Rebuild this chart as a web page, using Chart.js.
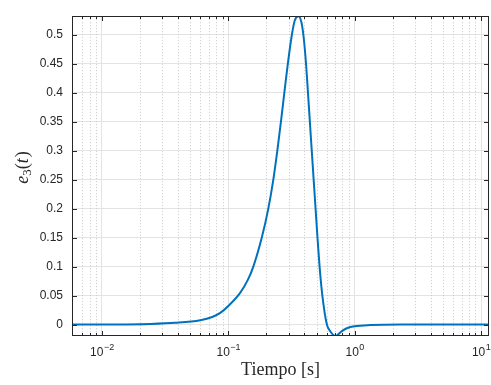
<!DOCTYPE html>
<html>
<head>
<meta charset="utf-8">
<script src="https://cdn.jsdelivr.net/npm/chart.js@4/dist/chart.umd.min.js"></script>
<style>
  html, body { margin: 0; padding: 0; background: #fff; }
  #wrap { width: 491px; height: 385px; }
</style>
</head>
<body>
<div id="wrap"><canvas id="chart"></canvas></div>
<script>
// time samples [s] and e3(t) values
const tiempo = [0.0058, 0.01, 0.015, 0.024, 0.038, 0.06, 0.0746, 0.0864, 0.1, 0.1245, 0.1427,
  0.1578, 0.1841, 0.2073, 0.2271, 0.2443, 0.2609, 0.2776, 0.2959, 0.3184, 0.3361, 0.3602,
  0.3784, 0.3925, 0.4122, 0.4269, 0.4418, 0.4574, 0.4735, 0.4903, 0.5076, 0.5274, 0.5549,
  0.6025, 0.642, 0.7033, 0.7848, 0.875, 1.0, 1.33, 2.3, 5, 11.55];
const e3 = [0, 0, 0.0002, 0.001, 0.003, 0.0075, 0.013, 0.02, 0.032, 0.055, 0.077,
  0.1, 0.15, 0.2, 0.25, 0.3, 0.35, 0.4, 0.45, 0.5, 0.525, 0.532,
  0.522, 0.5, 0.45, 0.4, 0.35, 0.3, 0.25, 0.2, 0.15, 0.1, 0.05,
  0, -0.012, -0.0198, -0.012, -0.006, -0.003, -0.001, 0, 0, 0];
const yTicks = [0, 0.05, 0.1, 0.15, 0.2, 0.25, 0.3, 0.35, 0.4, 0.45, 0.5];
const xMin = 0.0058, xMax = 11.55;
const yMin = -0.0198, yMax = 0.532;

const axisColor = "#262626";
const labelFont = "12px 'Liberation Sans', Arial, sans-serif";

function isWholeSignificand(v) {
  const exp = Math.floor(Math.log10(v) + 1e-9);
  const s = v / Math.pow(10, exp);
  return Math.abs(s - Math.round(s)) < 1e-6;
}

// dotted minor grid for the log axis
const minorGrid = {
  id: "minorGrid",
  beforeDatasetsDraw(chart) {
    const { ctx, chartArea: a } = chart;
    const xs = chart.scales.x;
    ctx.save();
    ctx.strokeStyle = "#c8c8c8";
    ctx.lineWidth = 1;
    ctx.setLineDash([1, 2]);
    xs.ticks.forEach((t) => {
      if (t.major || !isWholeSignificand(t.value)) return;
      const px = Math.round(xs.getPixelForValue(t.value)) + 0.5;
      ctx.beginPath();
      ctx.moveTo(px, a.top);
      ctx.lineTo(px, a.bottom);
      ctx.stroke();
    });
    ctx.restore();
  },
};

// box, inward ticks, x labels with exponents, axis titles
const matlabAxes = {
  id: "matlabAxes",
  afterDatasetsDraw(chart) {
    const { ctx, chartArea: a } = chart;
    const xs = chart.scales.x, ys = chart.scales.y;
    const L = Math.round(a.left) + 0.5, R = Math.round(a.right) - 0.5;
    const T = Math.round(a.top) + 0.5, B = Math.round(a.bottom) - 0.5;
    ctx.save();
    ctx.strokeStyle = axisColor;
    ctx.lineWidth = 1;
    ctx.strokeRect(L, T, R - L, B - T);

    ctx.beginPath();
    xs.ticks.forEach((t) => {
      if (!t.major && !isWholeSignificand(t.value)) return;
      const px = Math.round(xs.getPixelForValue(t.value)) + 0.5;
      if (px < L || px > R) return;
      const len = t.major ? 4.5 : 2.5;
      ctx.moveTo(px, B); ctx.lineTo(px, B - len);
      ctx.moveTo(px, T); ctx.lineTo(px, T + len);
    });
    yTicks.forEach((v) => {
      const py = Math.round(ys.getPixelForValue(v)) + 0.5;
      ctx.moveTo(L, py); ctx.lineTo(L + 4.5, py);
      ctx.moveTo(R, py); ctx.lineTo(R - 4.5, py);
    });
    ctx.stroke();

    // x tick labels 10^n
    ctx.fillStyle = axisColor;
    ctx.textBaseline = "alphabetic";
    xs.ticks.forEach((t) => {
      if (!t.major) return;
      const px = xs.getPixelForValue(t.value);
      const exp = String(Math.round(Math.log10(t.value))).replace("-", "\u2212");
      ctx.font = labelFont;
      const wb = ctx.measureText("10").width;
      ctx.font = "9px 'Liberation Sans', Arial, sans-serif";
      const we = ctx.measureText(exp).width;
      const x0 = px - (wb + we) / 2;
      ctx.font = labelFont;
      ctx.textAlign = "left";
      ctx.fillText("10", x0, 356);
      ctx.font = "9px 'Liberation Sans', Arial, sans-serif";
      ctx.fillText(exp, x0 + wb + 0.5, 350);
    });

    // x title
    ctx.font = "18px 'Liberation Serif', 'Times New Roman', serif";
    ctx.textAlign = "center";
    ctx.fillText("Tiempo [s]", (a.left + a.right) / 2, 375);

    // y title e_3(t), rotated
    ctx.translate(28, 168);
    ctx.rotate(-Math.PI / 2);
    const parts = [
      { s: "e", f: "italic 18px 'Liberation Serif', serif", dy: 0 },
      { s: "3", f: "13px 'Liberation Serif', serif", dy: 3 },
      { s: "(", f: "18px 'Liberation Serif', serif", dy: 0 },
      { s: "t", f: "italic 18px 'Liberation Serif', serif", dy: 0 },
      { s: ")", f: "18px 'Liberation Serif', serif", dy: 0 },
    ];
    let total = 0;
    parts.forEach((p) => { ctx.font = p.f; p.w = ctx.measureText(p.s).width; total += p.w; });
    let cx = -total / 2;
    ctx.textAlign = "left";
    parts.forEach((p) => {
      ctx.font = p.f;
      ctx.fillText(p.s, cx, p.dy);
      cx += p.w + (p.s === "t" ? 1 : 0);
    });
    ctx.restore();
  },
};

const points = tiempo.map((t, i) => ({ x: t, y: e3[i] }));

new Chart(document.getElementById("chart"), {
  type: "line",
  data: {
    datasets: [
      {
        data: points,
        borderColor: "#0072BD",
        borderWidth: 2,
        pointRadius: 0,
        cubicInterpolationMode: "monotone",
        fill: false,
      },
    ],
  },
  options: {
    responsive: true,
    maintainAspectRatio: false,
    animation: false,
    layout: { padding: { left: 0, top: 10, right: 2, bottom: 0 } },
    plugins: { legend: { display: false }, tooltip: { enabled: false } },
    scales: {
      x: {
        type: "logarithmic",
        min: xMin,
        max: xMax,
        border: { display: false },
        grid: {
          drawTicks: false,
          color: (c) => (c.tick && c.tick.major ? "#e3e3e3" : "rgba(0,0,0,0)"),
        },
        ticks: { display: false, autoSkip: false },
        afterFit: (s) => { s.height = 49; },
      },
      y: {
        min: yMin,
        max: yMax,
        border: { display: false },
        grid: { drawTicks: false, color: "#e3e3e3" },
        afterBuildTicks: (s) => { s.ticks = yTicks.map((v) => ({ value: v })); },
        ticks: {
          color: axisColor,
          padding: 9,
          font: { family: "'Liberation Sans', Arial, sans-serif", size: 12 },
          callback: (v) => String(+Number(v).toFixed(2)),
        },
        afterFit: (s) => { s.width = 72; },
      },
    },
  },
  plugins: [minorGrid, matlabAxes],
});
</script>
</body>
</html>
